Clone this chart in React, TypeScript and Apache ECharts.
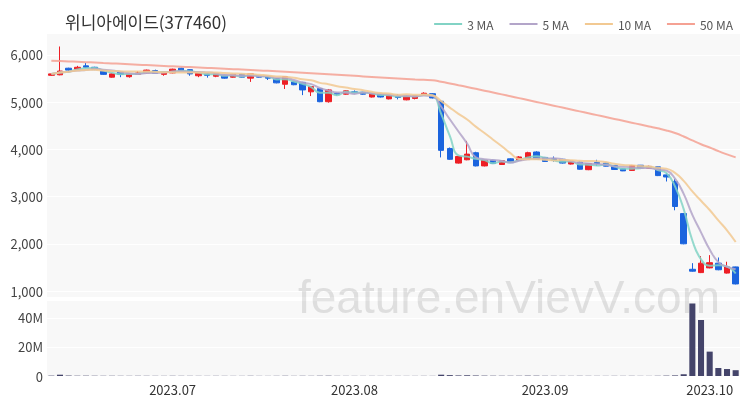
import React, { useEffect, useRef } from "react";
import * as echarts from "echarts";

// ---- data ----
const startDate = "2023-06-13";
const holidays = ["2023-08-15", "2023-09-28", "2023-09-29", "2023-10-02", "2023-10-03", "2023-10-09"];

const opens = [
  5570, 5580, 5720, 5700, 5770, 5740, 5660, 5530, 5640, 5540,
  5590, 5620, 5670, 5590, 5620, 5720, 5690, 5560, 5600, 5550,
  5570, 5530, 5590, 5510, 5560, 5530, 5500, 5380, 5430, 5420,
  5220, 5290, 5010, 5190, 5170, 5220, 5210, 5110, 5170, 5070,
  5130, 5050, 5080, 5150, 5180, 5020, 4020, 3710, 3780, 3930,
  3650, 3770, 3680, 3800, 3770, 3800, 3945, 3830, 3800, 3790,
  3690, 3730, 3570, 3725, 3710, 3660, 3590, 3555, 3665, 3600,
  3630, 3460, 3320, 2640, 1460, 1390, 1490, 1590, 1380, 1510,
];
const closes = [
  5600, 5660, 5680, 5740, 5740, 5690, 5590, 5600, 5590, 5600,
  5620, 5680, 5610, 5630, 5700, 5670, 5600, 5610, 5570, 5600,
  5510, 5590, 5530, 5600, 5530, 5510, 5410, 5540, 5370, 5260,
  5330, 5010, 5260, 5170, 5240, 5200, 5170, 5180, 5110, 5150,
  5100, 5130, 5140, 5190, 5090, 3980, 3790, 3850, 3900, 3650,
  3770, 3700, 3760, 3720, 3840, 3930, 3790, 3745, 3765, 3710,
  3750, 3580, 3700, 3700, 3645, 3575, 3545, 3655, 3605, 3640,
  3445, 3415, 2790, 2000, 1420, 1590, 1600, 1450, 1510, 1150,
];
const highs = [
  5610, 6180, 5730, 5770, 5830, 5750, 5670, 5610, 5650, 5610,
  5660, 5690, 5690, 5640, 5710, 5730, 5700, 5620, 5610, 5610,
  5580, 5600, 5600, 5610, 5570, 5550, 5510, 5550, 5440, 5430,
  5340, 5300, 5280, 5200, 5250, 5250, 5220, 5190, 5180, 5160,
  5170, 5140, 5150, 5210, 5190, 5040, 4040, 3860, 4180, 3950,
  3780, 3780, 3770, 3810, 3860, 3950, 3960, 3840, 3850, 3800,
  3770, 3740, 3710, 3780, 3720, 3670, 3600, 3670, 3670, 3655,
  3635, 3495, 3370, 2650, 1590, 1740, 1760, 1710, 1620, 1515,
];
const lows = [
  5560, 5570, 5640, 5690, 5720, 5680, 5580, 5520, 5530, 5520,
  5580, 5610, 5600, 5560, 5610, 5660, 5560, 5530, 5520, 5530,
  5500, 5520, 5520, 5430, 5520, 5470, 5400, 5280, 5360, 5150,
  5130, 5000, 4990, 5140, 5160, 5190, 5160, 5100, 5100, 5060,
  5060, 5040, 5060, 5140, 5080, 3830, 3780, 3700, 3770, 3640,
  3640, 3690, 3670, 3710, 3760, 3790, 3790, 3735, 3740, 3700,
  3680, 3570, 3560, 3650, 3640, 3565, 3540, 3545, 3600, 3590,
  3435, 3320, 2710, 1990, 1410, 1380, 1480, 1440, 1370, 1140,
];
const volumes = [
  250000, 900000, 300000, 200000, 220000, 180000, 150000, 160000, 140000, 130000,
  150000, 140000, 120000, 110000, 150000, 130000, 120000, 110000, 100000, 120000,
  110000, 100000, 100000, 150000, 100000, 90000, 120000, 160000, 110000, 150000,
  130000, 180000, 200000, 110000, 100000, 90000, 90000, 100000, 90000, 100000,
  90000, 90000, 90000, 110000, 100000, 900000, 600000, 400000, 500000, 350000,
  250000, 200000, 180000, 170000, 180000, 250000, 220000, 150000, 130000, 120000,
  110000, 140000, 120000, 110000, 100000, 120000, 110000, 130000, 100000, 90000,
  150000, 250000, 400000, 1200000, 50000000, 38600000, 16800000, 5500000, 4800000, 4000000,
];
const ma50 = [
  5880, 5872, 5864, 5856, 5848, 5840, 5831, 5822, 5813, 5804,
  5795, 5786, 5777, 5768, 5760, 5752, 5744, 5736, 5727, 5718,
  5709, 5700, 5691, 5682, 5673, 5664, 5654, 5644, 5634, 5624,
  5613, 5602, 5591, 5580, 5569, 5558, 5547, 5536, 5525, 5514,
  5503, 5492, 5482, 5474, 5466, 5434, 5398, 5360, 5322, 5283,
  5244, 5205, 5166, 5126, 5086, 5046, 5006, 4966, 4926, 4886,
  4846, 4806, 4766, 4726, 4686, 4646, 4606, 4566, 4526, 4486,
  4446, 4402, 4346, 4274, 4190, 4110, 4040, 3965, 3895, 3830,
];
const legendNames = ["3 MA", "5 MA", "10 MA", "50 MA"];
const maColors = ["#82d3c5", "#b3a5c9", "#f2c992", "#f5a193"];

// ---- derived ----
function buildDates(start: string, n: number, skip: string[]): string[] {
  const out: string[] = [];
  const d = new Date(start + "T00:00:00Z");
  while (out.length < n) {
    const day = d.getUTCDay();
    const s = d.toISOString().slice(0, 10);
    if (day !== 0 && day !== 6 && skip.indexOf(s) < 0) out.push(s);
    d.setUTCDate(d.getUTCDate() + 1);
  }
  return out;
}
const dates = buildDates(startDate, closes.length, holidays);

function movingAvg(values: number[], p: number): number[] {
  return values.map((_, i) => {
    const from = Math.max(0, i - p + 1);
    const slice = values.slice(from, i + 1);
    return Math.round(slice.reduce((a, b) => a + b, 0) / slice.length);
  });
}

const monthStarts = new Set<number>();
dates.forEach((d, i) => {
  if (i > 0 && d.slice(5, 7) !== dates[i - 1].slice(5, 7)) monthStarts.add(i);
});

const UP = "#ee1f25";
const DOWN = "#1b64de";
const FONT = "'Noto Sans CJK KR', 'Noto Sans', sans-serif";

export default function App() {
  const ref = useRef<HTMLDivElement>(null);
  useEffect(() => {
    if (!ref.current) return;
    const chart = echarts.init(ref.current, undefined, { renderer: "svg" });
    const candle = opens.map((o, i) => [o, closes[i], lows[i], highs[i]]);
    const maData = [movingAvg(closes, 3), movingAvg(closes, 5), movingAvg(closes, 10), ma50];
    chart.setOption({
      animation: false,
      textStyle: { fontFamily: FONT },
      title: {
        text: "위니아에이드(377460)",
        left: 60,
        top: 8,
        textStyle: { fontSize: 17, fontWeight: "normal", color: "#333", fontFamily: FONT },
      },
      legend: {
        data: legendNames,
        right: 12,
        top: 13,
        itemWidth: 28,
        itemHeight: 2,
        itemGap: 16,
        icon: "rect",
        textStyle: { fontSize: 12, color: "#555", fontFamily: FONT },
      },
      graphic: [
        {
          type: "text",
          left: 298,
          top: 274,
          z: 100,
          style: {
            text: "feature.enVievV.com",
            fontSize: 46,
            fontFamily: "'Liberation Sans', Arial, sans-serif",
            fill: "rgba(120,120,120,0.2)",
          },
        },
      ],
      grid: [
        { left: 47, right: 10, top: 33, height: 264, show: true, backgroundColor: "#f8f8f8", borderWidth: 0 },
        { left: 47, right: 10, top: 300, height: 76, show: true, backgroundColor: "#f8f8f8", borderWidth: 0 },
      ],
      xAxis: [
        {
          type: "category",
          data: dates,
          gridIndex: 0,
          boundaryGap: true,
          axisLine: { show: false },
          axisTick: { show: false },
          axisLabel: { show: false },
          splitLine: { show: false },
        },
        {
          type: "category",
          data: dates,
          gridIndex: 1,
          boundaryGap: true,
          axisLine: { show: false },
          axisTick: { show: false },
          axisLabel: {
            interval: (i: number) => monthStarts.has(i),
            formatter: (v: string) => v.slice(0, 7).replace("-", "."),
            color: "#333",
            fontSize: 13,
            margin: 7,
            fontFamily: FONT,
          },
          splitLine: { show: false },
        },
      ],
      yAxis: [
        {
          type: "value",
          gridIndex: 0,
          min: 873,
          max: 6466,
          axisLine: { show: false },
          axisTick: { show: false },
          axisLabel: {
            showMinLabel: false,
            showMaxLabel: false,
            color: "#444",
            fontSize: 13,
            margin: 4,
            fontFamily: FONT,
            formatter: (v: number) => v.toLocaleString("en-US"),
          },
          splitLine: { show: true, lineStyle: { color: "#ffffff", width: 1 } },
        },
        {
          type: "value",
          gridIndex: 1,
          min: 0,
          max: 52400000,
          interval: 20000000,
          axisLine: { show: false },
          axisTick: { show: false },
          axisLabel: {
            showMaxLabel: false,
            color: "#444",
            fontSize: 13,
            margin: 4,
            fontFamily: FONT,
            formatter: (v: number) => (v === 0 ? "0" : v / 1000000 + "M"),
          },
          splitLine: { show: true, lineStyle: { color: "#ffffff", width: 1 } },
        },
      ],
      series: [
        {
          type: "candlestick",
          xAxisIndex: 0,
          yAxisIndex: 0,
          data: candle,
          barWidth: "68%",
          itemStyle: { color: UP, color0: DOWN, borderColor: UP, borderColor0: DOWN, borderWidth: 1 },
          z: 2,
        },
        ...legendNames.map((name, k) => ({
          type: "line",
          name,
          xAxisIndex: 0,
          yAxisIndex: 0,
          data: maData[k],
          showSymbol: false,
          symbol: "none",
          smooth: true,
          lineStyle: { color: maColors[k], width: 2, opacity: 0.85 },
          itemStyle: { color: maColors[k] },
          z: 3,
        })),
        {
          type: "bar",
          xAxisIndex: 1,
          yAxisIndex: 1,
          data: volumes,
          barWidth: "70%",
          itemStyle: { color: "#44446a" },
        },
      ],
    });
    return () => chart.dispose();
  }, []);
  return <div ref={ref} style={{ position: "fixed", left: 0, top: 0, width: 750, height: 400 }} />;
}
